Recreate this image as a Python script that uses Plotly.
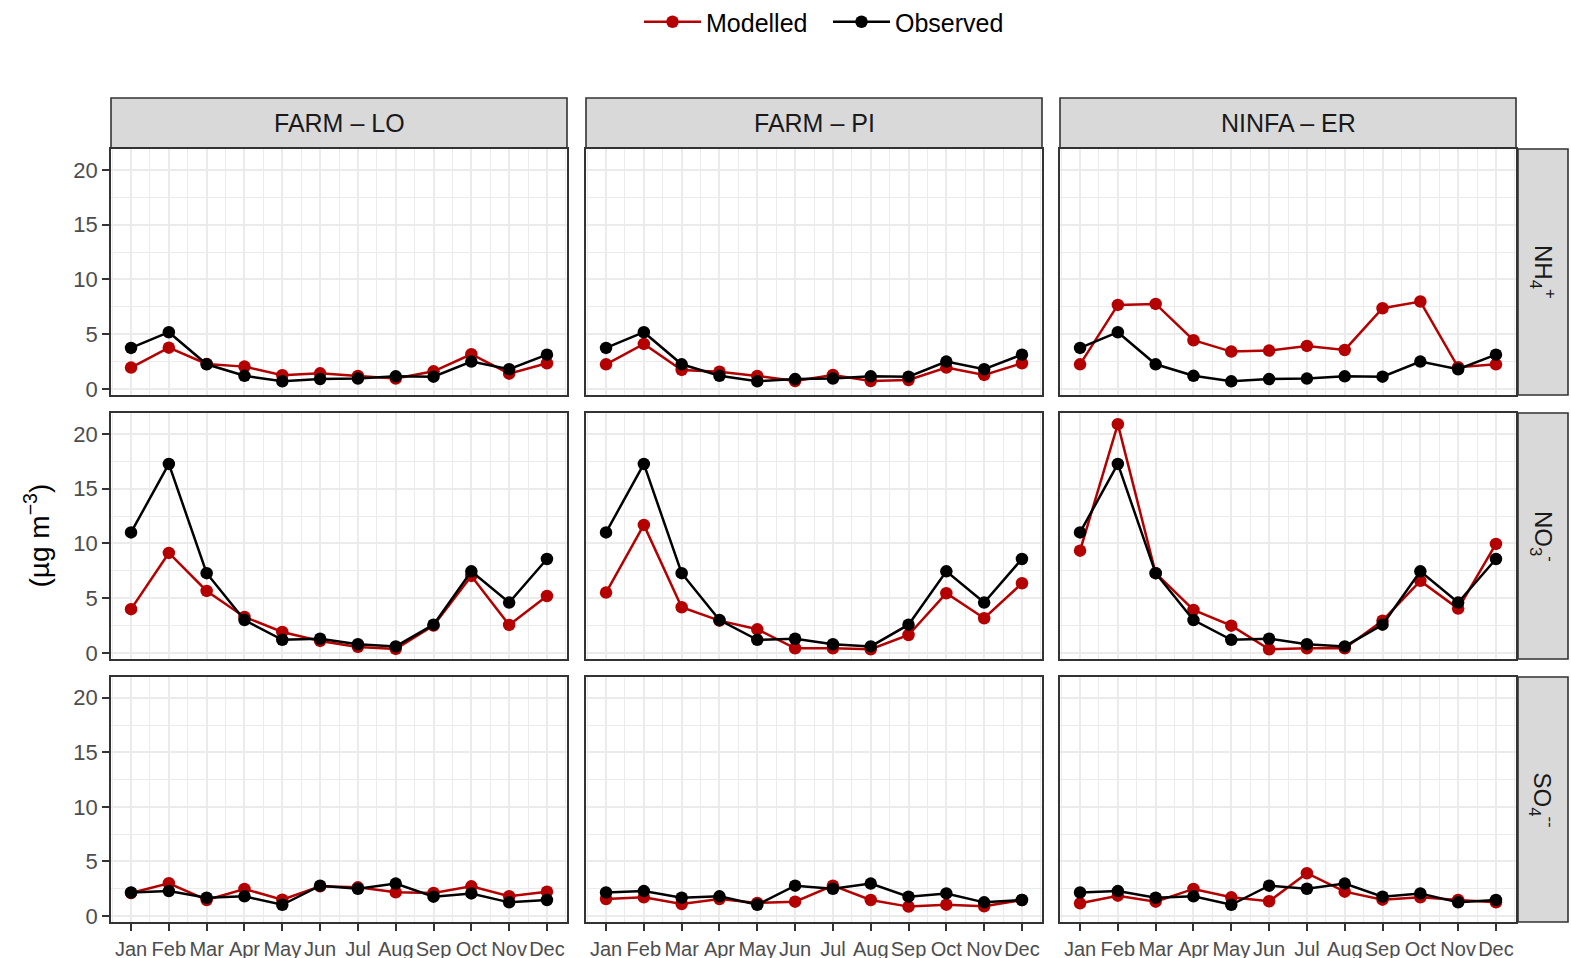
import plotly.graph_objects as go

# ---- data -------------------------------------------------------------
months = ["Jan", "Feb", "Mar", "Apr", "May", "Jun",
          "Jul", "Aug", "Sep", "Oct", "Nov", "Dec"]
models = ["FARM – LO", "FARM – PI", "NINFA – ER"]
species = ["NH<sub>4</sub><sup>+</sup>", "NO<sub>3</sub><sup>-</sup>", "SO<sub>4</sub><sup>--</sup>"]

obs_nh4 = [3.75, 5.18, 2.25, 1.20, 0.70, 0.90, 0.95, 1.15, 1.12, 2.50, 1.80, 3.13]
obs_no3 = [11.0, 17.25, 7.28, 3.00, 1.20, 1.30, 0.80, 0.60, 2.58, 7.45, 4.60, 8.58]
obs_so4 = [2.15, 2.28, 1.67, 1.80, 1.03, 2.78, 2.50, 2.97, 1.77, 2.07, 1.25, 1.47]

mod_nh4_lo = [1.95, 3.77, 2.28, 2.04, 1.25, 1.43, 1.19, 0.95, 1.61, 3.17, 1.40, 2.35]
mod_nh4_pi = [2.25, 4.11, 1.74, 1.58, 1.19, 0.73, 1.28, 0.73, 0.82, 1.95, 1.28, 2.35]
mod_nh4_er = [2.25, 7.67, 7.76, 4.45, 3.41, 3.50, 3.93, 3.56, 7.37, 7.98, 1.98, 2.25]

mod_no3_lo = [4.00, 9.13, 5.66, 3.29, 1.92, 1.10, 0.55, 0.37, 2.50, 7.03, 2.56, 5.20]
mod_no3_pi = [5.51, 11.69, 4.17, 2.95, 2.16, 0.43, 0.43, 0.34, 1.64, 5.45, 3.17, 6.36]
mod_no3_er = [9.34, 20.88, 7.28, 3.93, 2.49, 0.34, 0.43, 0.43, 2.95, 6.58, 4.05, 9.95]

mod_so4_lo = [2.11, 3.00, 1.47, 2.48, 1.50, 2.72, 2.63, 2.17, 2.11, 2.72, 1.81, 2.23]
mod_so4_pi = [1.56, 1.71, 1.10, 1.56, 1.19, 1.31, 2.78, 1.47, 0.86, 1.04, 0.89, 1.47]
mod_so4_er = [1.16, 1.86, 1.31, 2.48, 1.71, 1.35, 3.92, 2.23, 1.50, 1.71, 1.47, 1.26]

observed = [obs_nh4, obs_no3, obs_so4]
modelled = [
    [mod_nh4_lo, mod_nh4_pi, mod_nh4_er],
    [mod_no3_lo, mod_no3_pi, mod_no3_er],
    [mod_so4_lo, mod_so4_pi, mod_so4_er],
]

# ---- layout geometry (pixels) -----------------------------------------
W, H = 1571, 958
col_px = [(111, 567), (586, 1042), (1060, 1516)]
row_px = [(149, 395), (413, 659), (677, 922)]
strip_top = (98, 148)
strip_right = (1518, 1568)

RED = "#B40000"
BLACK = "#000000"
FRAME = "#333333"
GRID = "#EBEBEB"
FONT = "Liberation Sans, Arial, sans-serif"


def fx(px):
    return px / W


def fy(px):
    return 1 - px / H


x_idx = list(range(1, 13))
fig = go.Figure()
layout = {}

for r in range(3):
    for c in range(3):
        k = r * 3 + c + 1
        xa = "x" if k == 1 else f"x{k}"
        ya = "y" if k == 1 else f"y{k}"
        show_legend = (k == 1)
        fig.add_trace(go.Scatter(
            x=x_idx, y=modelled[r][c], xaxis=xa, yaxis=ya,
            mode="lines+markers", name="Modelled", legendgroup="mod",
            showlegend=show_legend,
            line=dict(color=RED, width=2.5),
            marker=dict(color=RED, size=12.5),
        ))
        fig.add_trace(go.Scatter(
            x=x_idx, y=observed[r], xaxis=xa, yaxis=ya,
            mode="lines+markers", name="Observed", legendgroup="obs",
            showlegend=show_legend,
            line=dict(color=BLACK, width=2.5),
            marker=dict(color=BLACK, size=12.5),
        ))

        x0, x1 = col_px[c]
        y0, y1 = row_px[r]
        xkey = "xaxis" if k == 1 else f"xaxis{k}"
        ykey = "yaxis" if k == 1 else f"yaxis{k}"
        layout[xkey] = dict(
            domain=[fx(x0), fx(x1)], anchor=ya,
            range=[0.47, 12.53],
            tickmode="array", tickvals=x_idx, ticktext=months,
            showticklabels=(r == 2), tickangle=0, automargin=False,
            ticks="outside" if r == 2 else "", ticklen=7, tickwidth=1.6,
            tickcolor=FRAME, ticklabelstandoff=1,
            tickfont=dict(family=FONT, size=20, color="#4D4D4D"),
            showgrid=True, gridcolor=GRID, gridwidth=2.3,
            minor=dict(tickmode="array",
                       tickvals=[i + 0.5 for i in range(0, 13)],
                       showgrid=True, gridcolor=GRID, gridwidth=1.2,
                       ticks=""),
            showline=True, linecolor=FRAME, linewidth=1.6, mirror=True,
            zeroline=False, fixedrange=True,
        )
        layout[ykey] = dict(
            domain=[fy(y1), fy(y0)], anchor=xa,
            range=[-0.55, 21.9], automargin=False,
            tickmode="array", tickvals=[0, 5, 10, 15, 20],
            showticklabels=(c == 0),
            ticks="outside" if c == 0 else "", ticklen=7, tickwidth=1.6,
            tickcolor=FRAME,
            tickfont=dict(family=FONT, size=22, color="#4D4D4D"),
            showgrid=True, gridcolor=GRID, gridwidth=2.3,
            minor=dict(tickmode="array",
                       tickvals=[2.5, 7.5, 12.5, 17.5],
                       showgrid=True, gridcolor=GRID, gridwidth=1.2,
                       ticks=""),
            showline=True, linecolor=FRAME, linewidth=1.6, mirror=True,
            zeroline=False, fixedrange=True,
        )

shapes = []
annotations = []

# column strips
for c, name in enumerate(models):
    x0, x1 = col_px[c]
    shapes.append(dict(type="rect", xref="paper", yref="paper",
                       x0=fx(x0), x1=fx(x1), y0=fy(strip_top[1]), y1=fy(strip_top[0]),
                       fillcolor="#D9D9D9", line=dict(color=FRAME, width=1.6),
                       layer="below"))
    annotations.append(dict(xref="paper", yref="paper",
                            x=fx((x0 + x1) / 2), y=fy((strip_top[0] + strip_top[1]) / 2),
                            text=name, showarrow=False,
                            font=dict(family=FONT, size=25, color="#1A1A1A"),
                            xanchor="center", yanchor="middle"))

# row strips
for r, name in enumerate(species):
    y0, y1 = row_px[r]
    shapes.append(dict(type="rect", xref="paper", yref="paper",
                       x0=fx(strip_right[0]), x1=fx(strip_right[1]), y0=fy(y1), y1=fy(y0),
                       fillcolor="#D9D9D9", line=dict(color=FRAME, width=1.6),
                       layer="below"))
    annotations.append(dict(xref="paper", yref="paper",
                            x=fx((strip_right[0] + strip_right[1]) / 2), y=fy((y0 + y1) / 2),
                            text=name, showarrow=False, textangle=90,
                            font=dict(family=FONT, size=24, color="#1A1A1A"),
                            xanchor="center", yanchor="middle"))

# shared y-axis title
annotations.append(dict(xref="paper", yref="paper",
                        x=fx(37), y=fy((row_px[0][0] + row_px[2][1]) / 2),
                        text="(µg m<sup>−3</sup>)", showarrow=False, textangle=-90,
                        font=dict(family=FONT, size=28, color="#000000"),
                        xanchor="center", yanchor="middle"))

fig.update_layout(
    width=W, height=H, autosize=False,
    margin=dict(l=0, r=0, t=0, b=0, autoexpand=False),
    paper_bgcolor="white", plot_bgcolor="white",
    showlegend=True,
    legend=dict(orientation="h", x=fx(639), y=fy(22), xanchor="left", yanchor="middle",
                font=dict(family=FONT, size=25, color="#000000"),
                bgcolor="rgba(0,0,0,0)", itemwidth=57,
                entrywidth=117, entrywidthmode="pixels",
                tracegroupgap=0),
    shapes=shapes, annotations=annotations,
    **layout,
)

fig.write_html("out.html")
